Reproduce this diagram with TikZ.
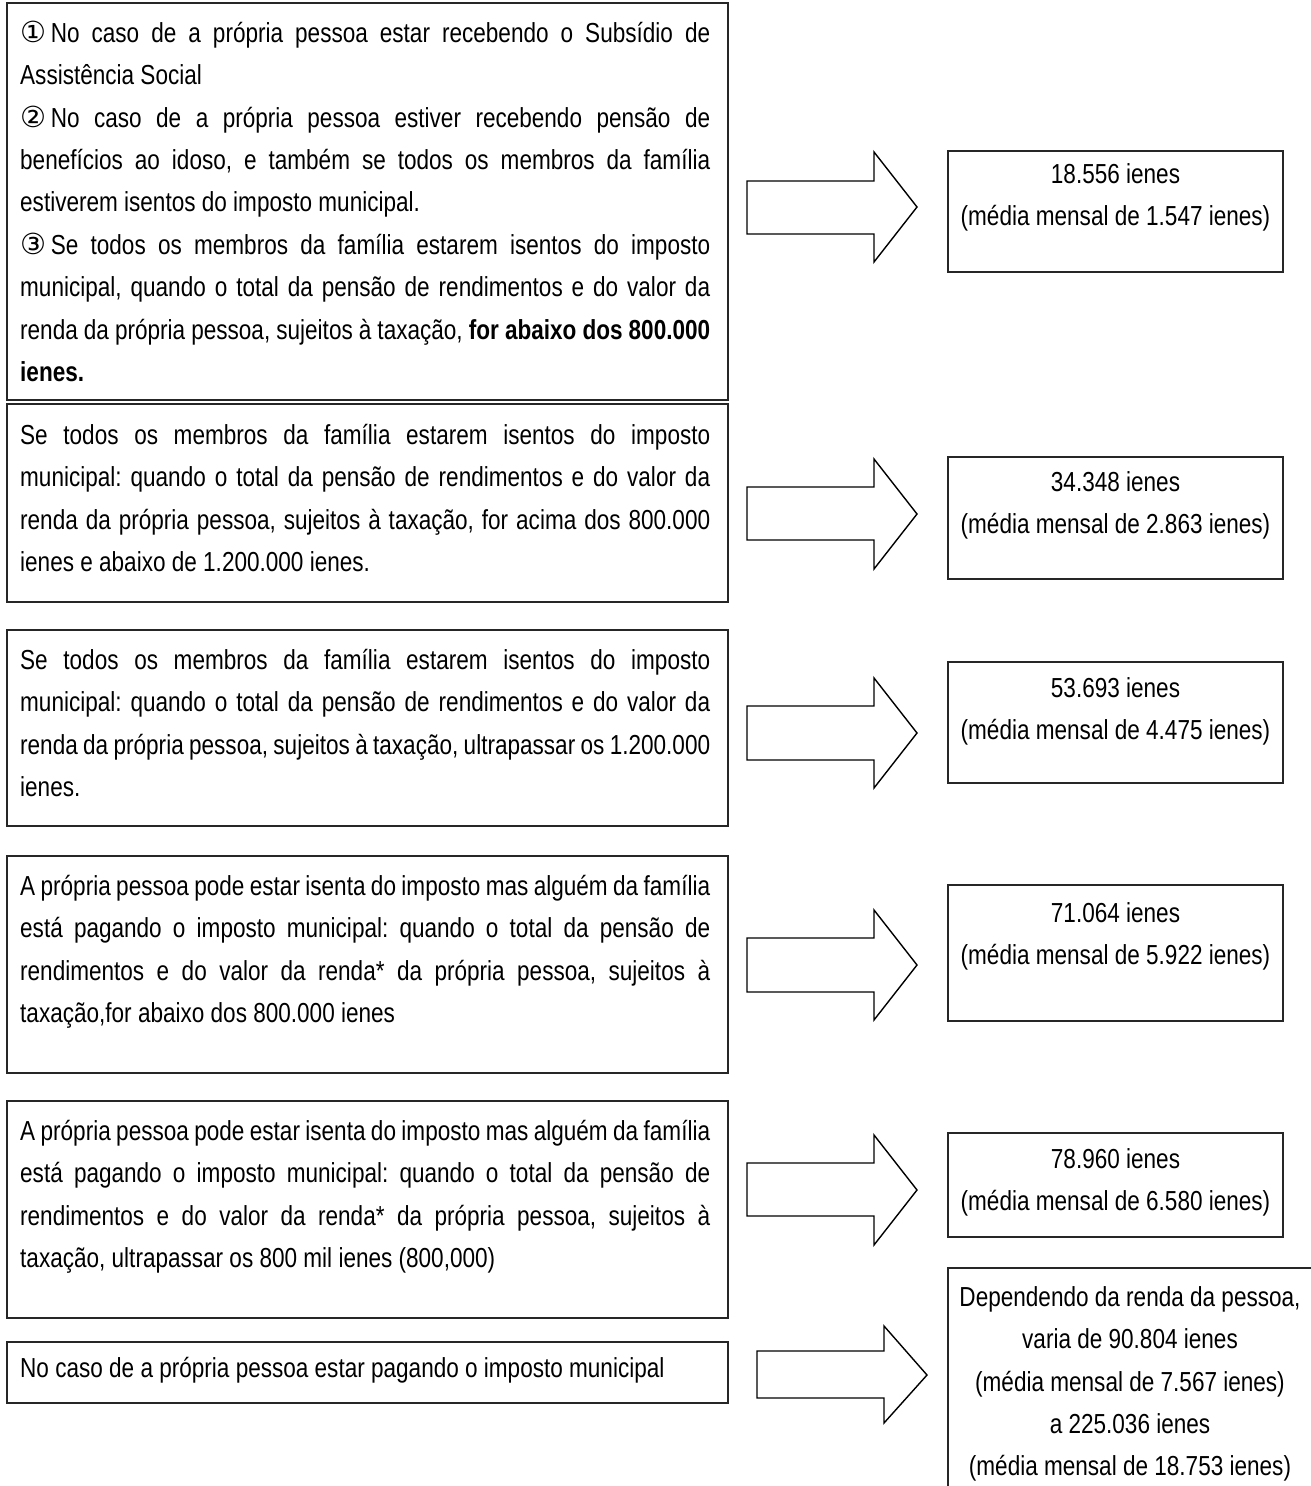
\documentclass[tikz,border=0pt]{standalone}
\usepackage{fontspec}
\setmainfont{Liberation Sans}[FakeStretch=0.82]
\newfontfamily\symfont{DejaVu Sans}
\newcommand\jl[1]{\makebox[690pt][s]{\frenchspacing\spaceskip=0pt\xspaceskip=0pt #1}}
\newcommand\fst{\frenchspacing\spaceskip=\fontdimen2\font\xspaceskip=\fontdimen2\font\rule{0pt}{27pt}}
\newcommand\circnum[1]{{\symfont\fontsize{29}{29}\selectfont #1}}
\begin{document}
\frenchspacing
\begin{tikzpicture}[x=1pt,y=-1pt,
  boxl/.style={draw=black!85, line width=1.1pt, inner sep=0pt, outer sep=0pt, anchor=north west},
  txtl/.style={inner sep=0pt, anchor=north west, text width=690pt, align=left, font=\fontsize{27.5}{42.4}\selectfont},
  txtr/.style={inner sep=0pt, anchor=north, text width=370pt, align=center, font=\fontsize{27.5}{42.4}\selectfont},
  barrow/.style={draw=black, line width=1.4pt, fill=white, line join=miter}]
\useasboundingbox (0,0) rectangle (1310,1486);
\fill[white] (0,0) rectangle (1310,1486);

% ---------- left boxes ----------
\node[boxl, minimum width=721pt, minimum height=397pt] (l1) at (7,3) {};
\node[boxl, minimum width=721pt, minimum height=198pt] (l2) at (7,404) {};
\node[boxl, minimum width=721pt, minimum height=196pt] (l3) at (7,630) {};
\node[boxl, minimum width=721pt, minimum height=217pt] (l4) at (7,856) {};
\node[boxl, minimum width=721pt, minimum height=217pt] (l5) at (7,1101) {};
\node[boxl, minimum width=721pt, minimum height=61pt] (l6) at (7,1342) {};

\node[txtl] (t1) at (20,15) {\fst\jl{\circnum{①}\,No caso de a própria pessoa estar recebendo o Subsídio de}\\
Assistência Social\\
\jl{\circnum{②}\,No caso de a própria pessoa estiver recebendo pensão de}\\
\jl{benefícios ao idoso, e também se todos os membros da família}\\
estiverem isentos do imposto municipal.\\
\jl{\circnum{③}\,Se todos os membros da família estarem isentos do imposto}\\
\jl{municipal, quando o total da pensão de rendimentos e do valor da}\\
\jl{renda da própria pessoa, sujeitos à taxação, \textbf{for abaixo dos 800.000}}\\
\textbf{ienes.}};

\node[txtl] (t2) at (20,417) {\fst\jl{Se todos os membros da família estarem isentos do imposto}\\
\jl{municipal: quando o total da pensão de rendimentos e do valor da}\\
\jl{renda da própria pessoa, sujeitos à taxação, for acima dos 800.000}\\
ienes e abaixo de 1.200.000 ienes.};

\node[txtl] (t3) at (20,642) {\fst\jl{Se todos os membros da família estarem isentos do imposto}\\
\jl{municipal: quando o total da pensão de rendimentos e do valor da}\\
\jl{renda da própria pessoa, sujeitos à taxação, ultrapassar os 1.200.000}\\
ienes.};

\node[txtl] (t4) at (20,868) {\fst\jl{A própria pessoa pode estar isenta do imposto mas alguém da família}\\
\jl{está pagando o imposto municipal: quando o total da pensão de}\\
\jl{rendimentos e do valor da renda* da própria pessoa, sujeitos à}\\
taxação,for abaixo dos 800.000 ienes};

\node[txtl] (t5) at (20,1113) {\fst\jl{A própria pessoa pode estar isenta do imposto mas alguém da família}\\
\jl{está pagando o imposto municipal: quando o total da pensão de}\\
\jl{rendimentos e do valor da renda* da própria pessoa, sujeitos à}\\
taxação, ultrapassar os 800 mil ienes (800,000)};

\node[txtl] (t6) at (20,1350) {\fst No caso de a própria pessoa estar pagando o imposto municipal};

% ---------- right boxes ----------
\node[boxl, minimum width=335pt, minimum height=121pt] (r1) at (948,151) {};
\node[boxl, minimum width=335pt, minimum height=122pt] (r2) at (948,457) {};
\node[boxl, minimum width=335pt, minimum height=121pt] (r3) at (948,662) {};
\node[boxl, minimum width=335pt, minimum height=136pt] (r4) at (948,885) {};
\node[boxl, minimum width=335pt, minimum height=104pt] (r5) at (948,1133) {};
\node[boxl, minimum width=366pt, minimum height=230pt] (r6) at (948,1268) {};

\node[txtr] (s1) at (1115.5,156) {\fst 18.556 ienes\\(média mensal de 1.547 ienes)};
\node[txtr] (s2) at (1115.5,464) {\fst 34.348 ienes\\(média mensal de 2.863 ienes)};
\node[txtr] (s3) at (1115.5,670) {\fst 53.693 ienes\\(média mensal de 4.475 ienes)};
\node[txtr] (s4) at (1115.5,895) {\fst 71.064 ienes\\(média mensal de 5.922 ienes)};
\node[txtr] (s5) at (1115.5,1141) {\fst 78.960 ienes\\(média mensal de 6.580 ienes)};
\node[txtr] (s6) at (1130,1279) {\fst Dependendo da renda da pessoa,\\varia de 90.804 ienes\\(média mensal de 7.567 ienes)\\a 225.036 ienes\\(média mensal de 18.753 ienes)};

% ---------- block arrows ----------
\draw[barrow] (747,181) -- (874,181) -- (874,152) -- (917,207) -- (874,262) -- (874,234) -- (747,234) -- cycle;
\draw[barrow] (747,487) -- (874,487) -- (874,459) -- (917,514) -- (874,569) -- (874,540) -- (747,540) -- cycle;
\draw[barrow] (747,706) -- (874,706) -- (874,678) -- (917,733) -- (874,788) -- (874,760) -- (747,760) -- cycle;
\draw[barrow] (747,938) -- (874,938) -- (874,910) -- (917,965) -- (874,1020) -- (874,992) -- (747,992) -- cycle;
\draw[barrow] (747,1163) -- (874,1163) -- (874,1135) -- (917,1190) -- (874,1245) -- (874,1216) -- (747,1216) -- cycle;
\draw[barrow] (757,1351) -- (884,1351) -- (884,1326) -- (927,1375) -- (884,1423) -- (884,1398) -- (757,1398) -- cycle;
\end{tikzpicture}
\end{document}
